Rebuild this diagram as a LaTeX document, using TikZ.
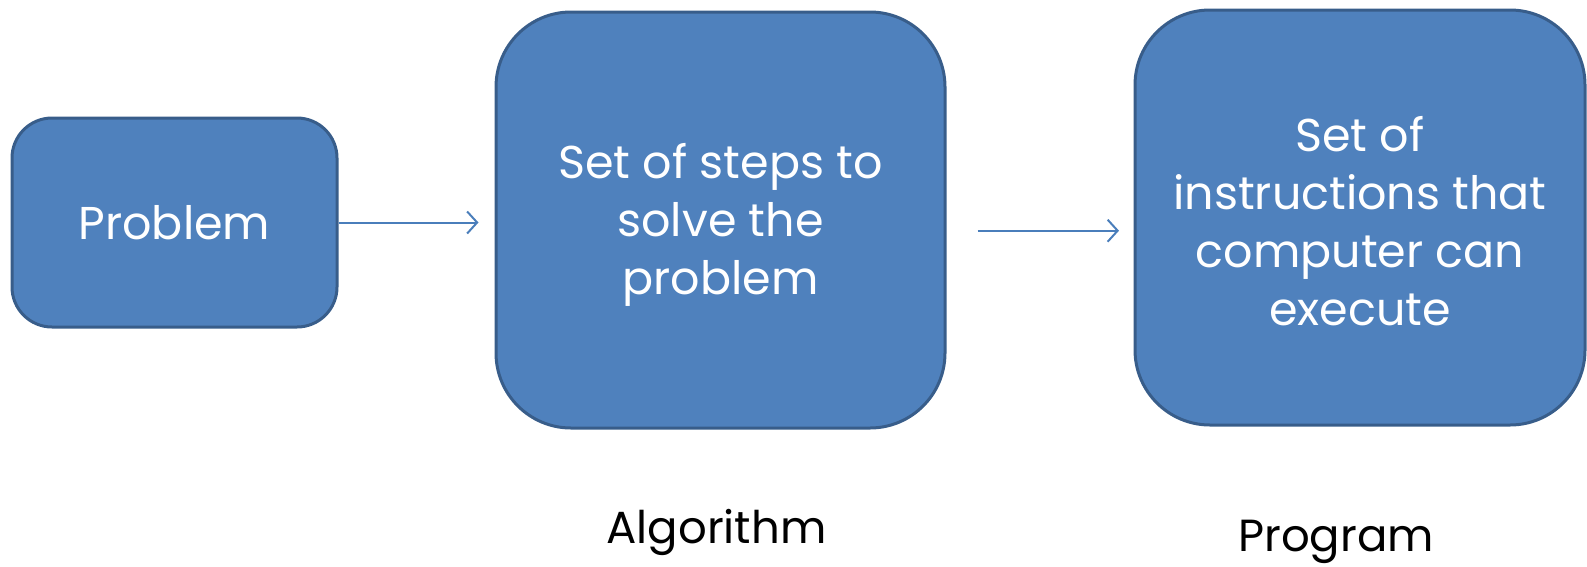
\documentclass[tikz,border=0pt]{standalone}
\usepackage{fontspec}
\setmainfont{Poppins}
\usetikzlibrary{arrows.meta}
\definecolor{boxfill}{HTML}{4F81BD}
\definecolor{boxline}{HTML}{385D8A}
\definecolor{arrowcol}{HTML}{4A7EBB}
\tikzset{
  block/.style={draw=boxline, fill=boxfill, line width=3pt, rounded corners=#1,
    text=white, align=center, inner sep=0pt,
    font=\fontsize{46}{58}\selectfont},
  block/.default=40pt,
  inner text/.style={text=white, align=center, font=\fontsize{46}{58}\selectfont},
  arr/.style={draw=arrowcol, line width=2pt, -{Straight Barb[length=10pt,width=22pt,line width=2pt]}},
  caption/.style={font=\fontsize{45}{52}\selectfont, text=black, inner sep=0pt}
}
\begin{document}
\begin{tikzpicture}[x=1pt,y=-1pt]
  \useasboundingbox (0,0) rectangle (1587,566);
  % the three stages
  \node[block=40pt, minimum width=325pt, minimum height=209pt] (prob) at (174.5,222.5) {Problem};
  \node[block=75pt, minimum width=449pt, minimum height=416pt] (alg) at (720.5,220) {};
  \node[inner text] (algtxt) at (720.5,225) {Set of steps to\\solve the\\problem};
  \node[block=75pt, minimum width=450pt, minimum height=415pt] (prog) at (1360,217.5) {};
  \node[inner text] (progtxt) at (1360,221) {Set of\\instructions that\\computer can\\execute};
  % connectors
  \draw[arr, shorten >=16pt] (prob.east) -- (prob.east -| alg.west);
  \draw[arr, shorten <=31pt, shorten >=14.5pt] ([yshift=-10.7pt]alg.east) -- ([yshift=-13.2pt]prog.west);
  % captions
  \node[caption] (alglbl) at (716.5,532) {Algorithm};
  \node[caption] (proglbl) at (1336,542) {Program};
\end{tikzpicture}
\end{document}
